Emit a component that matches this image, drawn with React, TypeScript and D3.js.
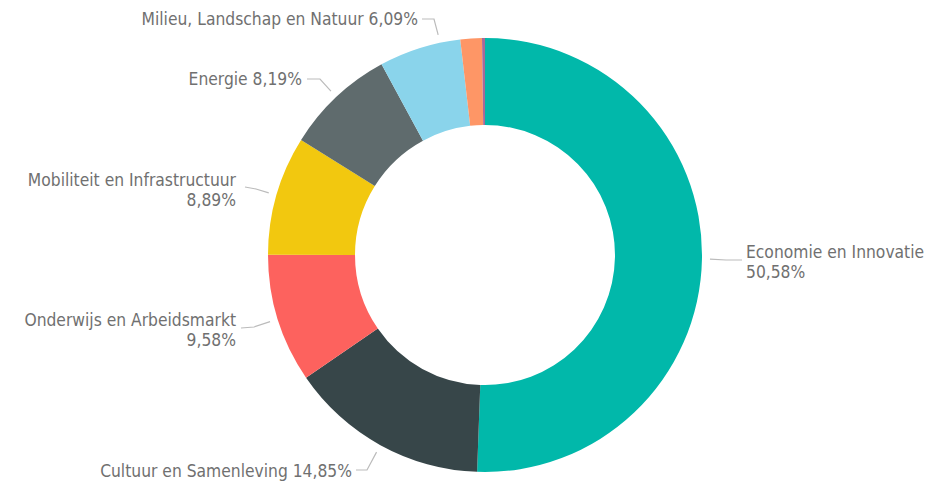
import * as d3 from "d3";

const categories = [
  "Economie en Innovatie",
  "Cultuur en Samenleving",
  "Onderwijs en Arbeidsmarkt",
  "Mobiliteit en Infrastructuur",
  "Energie",
  "Milieu, Landschap en Natuur",
  "Overig",
  "Onbekend",
];
const shares = [50.58, 14.85, 9.58, 8.89, 8.19, 6.09, 1.6, 0.22];
const colors = ["#01B8AA", "#374649", "#FD625E", "#F2C80F", "#5F6B6D", "#8AD4EB", "#FE9666", "#A66999"];
const labelTexts = [
  ["Economie en Innovatie", "50,58%"],
  ["Cultuur en Samenleving 14,85%"],
  ["Onderwijs en Arbeidsmarkt", "9,58%"],
  ["Mobiliteit en Infrastructuur", "8,89%"],
  ["Energie 8,19%"],
  ["Milieu, Landschap en Natuur 6,09%"],
  [],
  [],
];

// label placement: text anchor, elbow of leader, angle nudge (deg)
const labelLayout: Record<number, { x: number; y: number; anchor: string; elbow: [number, number]; end: [number, number]; nudge: number }> = {
  0: { x: 746, y: 252, anchor: "start", elbow: [726, 260], end: [742, 260], nudge: 0 },
  1: { x: 352, y: 471, anchor: "end", elbow: [367, 470], end: [356, 470], nudge: 0 },
  2: { x: 236, y: 320, anchor: "end", elbow: [254, 327], end: [241, 328], nudge: 0 },
  3: { x: 236, y: 180, anchor: "end", elbow: [256, 189], end: [245, 187], nudge: 0 },
  4: { x: 302, y: 79, anchor: "end", elbow: [320, 79], end: [307, 79], nudge: 0 },
  5: { x: 418, y: 19, anchor: "end", elbow: [434, 19], end: [422, 19], nudge: 5.5 },
};

const W = 933;
const H = 483;
const cx = 485;
const cy = 255;
const outerR = 217;
const innerR = 130;

export default function App() {
  const data = categories.map((c, i) => ({ name: c, value: shares[i], i }));
  const pie = d3.pie<{ name: string; value: number; i: number }>().sort(null).value(d => d.value);
  const arcs = pie(data);
  const arc = d3.arc<d3.PieArcDatum<{ name: string; value: number; i: number }>>()
    .innerRadius(innerR)
    .outerRadius(outerR);
  const line = d3.line();

  return (
    <svg width={W} height={H} style={{ position: "absolute", left: 0, top: 0, background: "#fff" }}>
      <g transform={`translate(${cx},${cy})`}>
        {arcs.map(a => (
          <path key={a.data.name} d={arc(a) || ""} fill={colors[a.data.i]} />
        ))}
      </g>
      {arcs.map(a => {
        const lay = labelLayout[a.data.i];
        if (!lay) return null;
        const mid = (a.startAngle + a.endAngle) / 2 + (lay.nudge * Math.PI) / 180;
        const r = outerR + 8;
        const start: [number, number] = [cx + r * Math.sin(mid), cy - r * Math.cos(mid)];
        const lines = labelTexts[a.data.i];
        return (
          <g key={"l" + a.data.name}>
            <path d={line([start, lay.elbow, lay.end]) || ""} fill="none" stroke="#bbbbbb" strokeWidth={1.2} />
            <text
              x={lay.x}
              y={lay.y}
              textAnchor={lay.anchor}
              fill="#707070"
              fontFamily="'DejaVu Sans Condensed', 'DejaVu Sans', sans-serif"
              fontSize={17.3}
            >
              {lines.map((t, k) => (
                <tspan key={k} x={lay.x} dy={k === 0 ? "0.35em" : 20}>
                  {t}
                </tspan>
              ))}
            </text>
          </g>
        );
      })}
    </svg>
  );
}
